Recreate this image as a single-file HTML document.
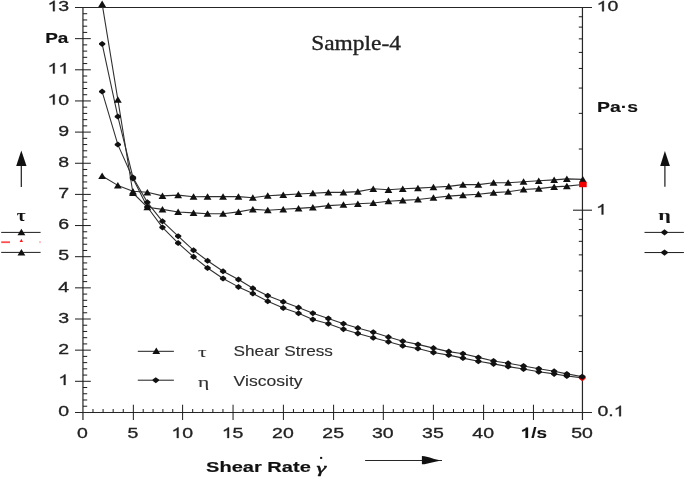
<!DOCTYPE html>
<html><head><meta charset="utf-8"><title>Sample-4</title>
<style>
html,body{margin:0;padding:0;background:#fff;}
body{width:685px;height:478px;overflow:hidden;font-family:"Liberation Sans",sans-serif;}
svg{display:block;will-change:transform;transform:translateZ(0);}
</style></head><body>
<svg width="685" height="478" viewBox="0 0 685 478">
<rect width="685" height="478" fill="#fff"/>
<line x1="75.00" y1="7.50" x2="592.00" y2="7.50" stroke="#262626" stroke-width="1.15"/>
<line x1="75.00" y1="412.45" x2="592.00" y2="412.45" stroke="#262626" stroke-width="1.15"/>
<line x1="82.95" y1="7.50" x2="82.95" y2="420.00" stroke="#262626" stroke-width="1.2"/>
<line x1="582.45" y1="7.50" x2="582.45" y2="420.00" stroke="#262626" stroke-width="1.2"/>
<line x1="82.95" y1="406.22" x2="87.20" y2="406.22" stroke="#1c1c1c" stroke-width="1.0"/>
<line x1="82.95" y1="399.99" x2="87.20" y2="399.99" stroke="#1c1c1c" stroke-width="1.0"/>
<line x1="82.95" y1="393.76" x2="87.20" y2="393.76" stroke="#1c1c1c" stroke-width="1.0"/>
<line x1="82.95" y1="387.53" x2="87.20" y2="387.53" stroke="#1c1c1c" stroke-width="1.0"/>
<line x1="75.00" y1="381.30" x2="90.80" y2="381.30" stroke="#1c1c1c" stroke-width="1.0"/>
<line x1="82.95" y1="375.07" x2="87.20" y2="375.07" stroke="#1c1c1c" stroke-width="1.0"/>
<line x1="82.95" y1="368.84" x2="87.20" y2="368.84" stroke="#1c1c1c" stroke-width="1.0"/>
<line x1="82.95" y1="362.61" x2="87.20" y2="362.61" stroke="#1c1c1c" stroke-width="1.0"/>
<line x1="82.95" y1="356.38" x2="87.20" y2="356.38" stroke="#1c1c1c" stroke-width="1.0"/>
<line x1="75.00" y1="350.15" x2="90.80" y2="350.15" stroke="#1c1c1c" stroke-width="1.0"/>
<line x1="82.95" y1="343.92" x2="87.20" y2="343.92" stroke="#1c1c1c" stroke-width="1.0"/>
<line x1="82.95" y1="337.69" x2="87.20" y2="337.69" stroke="#1c1c1c" stroke-width="1.0"/>
<line x1="82.95" y1="331.46" x2="87.20" y2="331.46" stroke="#1c1c1c" stroke-width="1.0"/>
<line x1="82.95" y1="325.23" x2="87.20" y2="325.23" stroke="#1c1c1c" stroke-width="1.0"/>
<line x1="75.00" y1="319.00" x2="90.80" y2="319.00" stroke="#1c1c1c" stroke-width="1.0"/>
<line x1="82.95" y1="312.77" x2="87.20" y2="312.77" stroke="#1c1c1c" stroke-width="1.0"/>
<line x1="82.95" y1="306.54" x2="87.20" y2="306.54" stroke="#1c1c1c" stroke-width="1.0"/>
<line x1="82.95" y1="300.31" x2="87.20" y2="300.31" stroke="#1c1c1c" stroke-width="1.0"/>
<line x1="82.95" y1="294.08" x2="87.20" y2="294.08" stroke="#1c1c1c" stroke-width="1.0"/>
<line x1="75.00" y1="287.85" x2="90.80" y2="287.85" stroke="#1c1c1c" stroke-width="1.0"/>
<line x1="82.95" y1="281.62" x2="87.20" y2="281.62" stroke="#1c1c1c" stroke-width="1.0"/>
<line x1="82.95" y1="275.39" x2="87.20" y2="275.39" stroke="#1c1c1c" stroke-width="1.0"/>
<line x1="82.95" y1="269.16" x2="87.20" y2="269.16" stroke="#1c1c1c" stroke-width="1.0"/>
<line x1="82.95" y1="262.93" x2="87.20" y2="262.93" stroke="#1c1c1c" stroke-width="1.0"/>
<line x1="75.00" y1="256.70" x2="90.80" y2="256.70" stroke="#1c1c1c" stroke-width="1.0"/>
<line x1="82.95" y1="250.47" x2="87.20" y2="250.47" stroke="#1c1c1c" stroke-width="1.0"/>
<line x1="82.95" y1="244.24" x2="87.20" y2="244.24" stroke="#1c1c1c" stroke-width="1.0"/>
<line x1="82.95" y1="238.01" x2="87.20" y2="238.01" stroke="#1c1c1c" stroke-width="1.0"/>
<line x1="82.95" y1="231.78" x2="87.20" y2="231.78" stroke="#1c1c1c" stroke-width="1.0"/>
<line x1="75.00" y1="225.55" x2="90.80" y2="225.55" stroke="#1c1c1c" stroke-width="1.0"/>
<line x1="82.95" y1="219.32" x2="87.20" y2="219.32" stroke="#1c1c1c" stroke-width="1.0"/>
<line x1="82.95" y1="213.09" x2="87.20" y2="213.09" stroke="#1c1c1c" stroke-width="1.0"/>
<line x1="82.95" y1="206.86" x2="87.20" y2="206.86" stroke="#1c1c1c" stroke-width="1.0"/>
<line x1="82.95" y1="200.63" x2="87.20" y2="200.63" stroke="#1c1c1c" stroke-width="1.0"/>
<line x1="75.00" y1="194.40" x2="90.80" y2="194.40" stroke="#1c1c1c" stroke-width="1.0"/>
<line x1="82.95" y1="188.17" x2="87.20" y2="188.17" stroke="#1c1c1c" stroke-width="1.0"/>
<line x1="82.95" y1="181.94" x2="87.20" y2="181.94" stroke="#1c1c1c" stroke-width="1.0"/>
<line x1="82.95" y1="175.71" x2="87.20" y2="175.71" stroke="#1c1c1c" stroke-width="1.0"/>
<line x1="82.95" y1="169.48" x2="87.20" y2="169.48" stroke="#1c1c1c" stroke-width="1.0"/>
<line x1="75.00" y1="163.25" x2="90.80" y2="163.25" stroke="#1c1c1c" stroke-width="1.0"/>
<line x1="82.95" y1="157.02" x2="87.20" y2="157.02" stroke="#1c1c1c" stroke-width="1.0"/>
<line x1="82.95" y1="150.79" x2="87.20" y2="150.79" stroke="#1c1c1c" stroke-width="1.0"/>
<line x1="82.95" y1="144.56" x2="87.20" y2="144.56" stroke="#1c1c1c" stroke-width="1.0"/>
<line x1="82.95" y1="138.33" x2="87.20" y2="138.33" stroke="#1c1c1c" stroke-width="1.0"/>
<line x1="75.00" y1="132.10" x2="90.80" y2="132.10" stroke="#1c1c1c" stroke-width="1.0"/>
<line x1="82.95" y1="125.87" x2="87.20" y2="125.87" stroke="#1c1c1c" stroke-width="1.0"/>
<line x1="82.95" y1="119.64" x2="87.20" y2="119.64" stroke="#1c1c1c" stroke-width="1.0"/>
<line x1="82.95" y1="113.41" x2="87.20" y2="113.41" stroke="#1c1c1c" stroke-width="1.0"/>
<line x1="82.95" y1="107.18" x2="87.20" y2="107.18" stroke="#1c1c1c" stroke-width="1.0"/>
<line x1="75.00" y1="100.95" x2="90.80" y2="100.95" stroke="#1c1c1c" stroke-width="1.0"/>
<line x1="82.95" y1="94.72" x2="87.20" y2="94.72" stroke="#1c1c1c" stroke-width="1.0"/>
<line x1="82.95" y1="88.49" x2="87.20" y2="88.49" stroke="#1c1c1c" stroke-width="1.0"/>
<line x1="82.95" y1="82.26" x2="87.20" y2="82.26" stroke="#1c1c1c" stroke-width="1.0"/>
<line x1="82.95" y1="76.03" x2="87.20" y2="76.03" stroke="#1c1c1c" stroke-width="1.0"/>
<line x1="75.00" y1="69.80" x2="90.80" y2="69.80" stroke="#1c1c1c" stroke-width="1.0"/>
<line x1="82.95" y1="63.57" x2="87.20" y2="63.57" stroke="#1c1c1c" stroke-width="1.0"/>
<line x1="82.95" y1="57.34" x2="87.20" y2="57.34" stroke="#1c1c1c" stroke-width="1.0"/>
<line x1="82.95" y1="51.11" x2="87.20" y2="51.11" stroke="#1c1c1c" stroke-width="1.0"/>
<line x1="82.95" y1="44.88" x2="87.20" y2="44.88" stroke="#1c1c1c" stroke-width="1.0"/>
<line x1="75.00" y1="38.65" x2="90.80" y2="38.65" stroke="#1c1c1c" stroke-width="1.0"/>
<line x1="82.95" y1="32.42" x2="87.20" y2="32.42" stroke="#1c1c1c" stroke-width="1.0"/>
<line x1="82.95" y1="26.19" x2="87.20" y2="26.19" stroke="#1c1c1c" stroke-width="1.0"/>
<line x1="82.95" y1="19.96" x2="87.20" y2="19.96" stroke="#1c1c1c" stroke-width="1.0"/>
<line x1="82.95" y1="13.73" x2="87.20" y2="13.73" stroke="#1c1c1c" stroke-width="1.0"/>
<line x1="92.99" y1="409.00" x2="92.99" y2="412.45" stroke="#1c1c1c" stroke-width="1.0"/>
<line x1="103.08" y1="409.00" x2="103.08" y2="412.45" stroke="#1c1c1c" stroke-width="1.0"/>
<line x1="113.17" y1="409.00" x2="113.17" y2="412.45" stroke="#1c1c1c" stroke-width="1.0"/>
<line x1="123.26" y1="409.00" x2="123.26" y2="412.45" stroke="#1c1c1c" stroke-width="1.0"/>
<line x1="133.35" y1="404.70" x2="133.35" y2="420.00" stroke="#1c1c1c" stroke-width="1.0"/>
<line x1="143.20" y1="409.00" x2="143.20" y2="412.45" stroke="#1c1c1c" stroke-width="1.0"/>
<line x1="153.05" y1="409.00" x2="153.05" y2="412.45" stroke="#1c1c1c" stroke-width="1.0"/>
<line x1="162.90" y1="409.00" x2="162.90" y2="412.45" stroke="#1c1c1c" stroke-width="1.0"/>
<line x1="172.75" y1="409.00" x2="172.75" y2="412.45" stroke="#1c1c1c" stroke-width="1.0"/>
<line x1="182.60" y1="404.70" x2="182.60" y2="420.00" stroke="#1c1c1c" stroke-width="1.0"/>
<line x1="192.69" y1="409.00" x2="192.69" y2="412.45" stroke="#1c1c1c" stroke-width="1.0"/>
<line x1="202.78" y1="409.00" x2="202.78" y2="412.45" stroke="#1c1c1c" stroke-width="1.0"/>
<line x1="212.87" y1="409.00" x2="212.87" y2="412.45" stroke="#1c1c1c" stroke-width="1.0"/>
<line x1="222.96" y1="409.00" x2="222.96" y2="412.45" stroke="#1c1c1c" stroke-width="1.0"/>
<line x1="233.05" y1="404.70" x2="233.05" y2="420.00" stroke="#1c1c1c" stroke-width="1.0"/>
<line x1="243.12" y1="409.00" x2="243.12" y2="412.45" stroke="#1c1c1c" stroke-width="1.0"/>
<line x1="253.19" y1="409.00" x2="253.19" y2="412.45" stroke="#1c1c1c" stroke-width="1.0"/>
<line x1="263.26" y1="409.00" x2="263.26" y2="412.45" stroke="#1c1c1c" stroke-width="1.0"/>
<line x1="273.33" y1="409.00" x2="273.33" y2="412.45" stroke="#1c1c1c" stroke-width="1.0"/>
<line x1="283.40" y1="404.70" x2="283.40" y2="420.00" stroke="#1c1c1c" stroke-width="1.0"/>
<line x1="293.44" y1="409.00" x2="293.44" y2="412.45" stroke="#1c1c1c" stroke-width="1.0"/>
<line x1="303.48" y1="409.00" x2="303.48" y2="412.45" stroke="#1c1c1c" stroke-width="1.0"/>
<line x1="313.52" y1="409.00" x2="313.52" y2="412.45" stroke="#1c1c1c" stroke-width="1.0"/>
<line x1="323.56" y1="409.00" x2="323.56" y2="412.45" stroke="#1c1c1c" stroke-width="1.0"/>
<line x1="333.60" y1="404.70" x2="333.60" y2="420.00" stroke="#1c1c1c" stroke-width="1.0"/>
<line x1="343.54" y1="409.00" x2="343.54" y2="412.45" stroke="#1c1c1c" stroke-width="1.0"/>
<line x1="353.48" y1="409.00" x2="353.48" y2="412.45" stroke="#1c1c1c" stroke-width="1.0"/>
<line x1="363.42" y1="409.00" x2="363.42" y2="412.45" stroke="#1c1c1c" stroke-width="1.0"/>
<line x1="373.36" y1="409.00" x2="373.36" y2="412.45" stroke="#1c1c1c" stroke-width="1.0"/>
<line x1="383.30" y1="404.70" x2="383.30" y2="420.00" stroke="#1c1c1c" stroke-width="1.0"/>
<line x1="393.32" y1="409.00" x2="393.32" y2="412.45" stroke="#1c1c1c" stroke-width="1.0"/>
<line x1="403.34" y1="409.00" x2="403.34" y2="412.45" stroke="#1c1c1c" stroke-width="1.0"/>
<line x1="413.36" y1="409.00" x2="413.36" y2="412.45" stroke="#1c1c1c" stroke-width="1.0"/>
<line x1="423.38" y1="409.00" x2="423.38" y2="412.45" stroke="#1c1c1c" stroke-width="1.0"/>
<line x1="433.40" y1="404.70" x2="433.40" y2="420.00" stroke="#1c1c1c" stroke-width="1.0"/>
<line x1="443.44" y1="409.00" x2="443.44" y2="412.45" stroke="#1c1c1c" stroke-width="1.0"/>
<line x1="453.48" y1="409.00" x2="453.48" y2="412.45" stroke="#1c1c1c" stroke-width="1.0"/>
<line x1="463.52" y1="409.00" x2="463.52" y2="412.45" stroke="#1c1c1c" stroke-width="1.0"/>
<line x1="473.56" y1="409.00" x2="473.56" y2="412.45" stroke="#1c1c1c" stroke-width="1.0"/>
<line x1="483.60" y1="404.70" x2="483.60" y2="420.00" stroke="#1c1c1c" stroke-width="1.0"/>
<line x1="493.57" y1="409.00" x2="493.57" y2="412.45" stroke="#1c1c1c" stroke-width="1.0"/>
<line x1="503.54" y1="409.00" x2="503.54" y2="412.45" stroke="#1c1c1c" stroke-width="1.0"/>
<line x1="513.51" y1="409.00" x2="513.51" y2="412.45" stroke="#1c1c1c" stroke-width="1.0"/>
<line x1="523.48" y1="409.00" x2="523.48" y2="412.45" stroke="#1c1c1c" stroke-width="1.0"/>
<line x1="533.45" y1="404.70" x2="533.45" y2="420.00" stroke="#1c1c1c" stroke-width="1.0"/>
<line x1="543.25" y1="409.00" x2="543.25" y2="412.45" stroke="#1c1c1c" stroke-width="1.0"/>
<line x1="553.05" y1="409.00" x2="553.05" y2="412.45" stroke="#1c1c1c" stroke-width="1.0"/>
<line x1="562.85" y1="409.00" x2="562.85" y2="412.45" stroke="#1c1c1c" stroke-width="1.0"/>
<line x1="572.65" y1="409.00" x2="572.65" y2="412.45" stroke="#1c1c1c" stroke-width="1.0"/>
<line x1="578.80" y1="149.02" x2="582.45" y2="149.02" stroke="#1c1c1c" stroke-width="1.0"/>
<line x1="578.80" y1="113.37" x2="582.45" y2="113.37" stroke="#1c1c1c" stroke-width="1.0"/>
<line x1="578.80" y1="88.07" x2="582.45" y2="88.07" stroke="#1c1c1c" stroke-width="1.0"/>
<line x1="578.80" y1="68.45" x2="582.45" y2="68.45" stroke="#1c1c1c" stroke-width="1.0"/>
<line x1="578.80" y1="52.42" x2="582.45" y2="52.42" stroke="#1c1c1c" stroke-width="1.0"/>
<line x1="578.80" y1="38.86" x2="582.45" y2="38.86" stroke="#1c1c1c" stroke-width="1.0"/>
<line x1="578.80" y1="27.12" x2="582.45" y2="27.12" stroke="#1c1c1c" stroke-width="1.0"/>
<line x1="578.80" y1="16.76" x2="582.45" y2="16.76" stroke="#1c1c1c" stroke-width="1.0"/>
<line x1="578.80" y1="351.50" x2="582.45" y2="351.50" stroke="#1c1c1c" stroke-width="1.0"/>
<line x1="578.80" y1="315.84" x2="582.45" y2="315.84" stroke="#1c1c1c" stroke-width="1.0"/>
<line x1="578.80" y1="290.55" x2="582.45" y2="290.55" stroke="#1c1c1c" stroke-width="1.0"/>
<line x1="578.80" y1="270.93" x2="582.45" y2="270.93" stroke="#1c1c1c" stroke-width="1.0"/>
<line x1="578.80" y1="254.89" x2="582.45" y2="254.89" stroke="#1c1c1c" stroke-width="1.0"/>
<line x1="578.80" y1="241.34" x2="582.45" y2="241.34" stroke="#1c1c1c" stroke-width="1.0"/>
<line x1="578.80" y1="229.60" x2="582.45" y2="229.60" stroke="#1c1c1c" stroke-width="1.0"/>
<line x1="578.80" y1="219.24" x2="582.45" y2="219.24" stroke="#1c1c1c" stroke-width="1.0"/>
<line x1="573.00" y1="210.20" x2="592.00" y2="210.20" stroke="#262626" stroke-width="1.1"/>
<polyline points="102.15,3.90 117.85,99.60 132.95,193.00 147.35,207.20 162.45,209.40 178.15,212.00 193.55,212.90 207.55,213.70 223.05,213.70 238.45,211.90 252.85,209.30 267.75,210.20 283.25,209.30 298.55,208.40 312.85,207.40 328.35,205.60 343.45,204.70 357.85,203.80 373.25,203.00 388.45,201.20 402.75,200.40 417.95,199.50 433.45,197.70 448.75,196.10 462.95,195.10 478.35,194.20 493.55,192.60 508.15,191.70 523.55,189.50 538.75,188.60 554.15,186.90 566.85,186.10 582.85,184.50" fill="none" stroke="#303030" stroke-width="1.08" stroke-linejoin="round"/>
<polyline points="102.15,176.00 117.85,185.40 132.95,191.30 147.35,192.30 162.45,195.90 178.15,195.10 193.55,196.70 207.55,196.60 223.05,196.60 238.45,196.60 252.85,197.70 267.75,195.70 283.25,194.90 298.55,194.00 312.85,193.20 328.35,192.40 343.45,192.40 357.85,191.60 373.25,188.80 388.45,189.80 402.75,188.80 417.95,188.10 433.45,187.20 448.75,186.40 462.95,184.60 478.35,184.60 493.55,182.70 508.15,182.70 523.55,181.70 538.75,180.80 554.15,179.90 566.85,178.90 582.85,179.40" fill="none" stroke="#303030" stroke-width="1.08" stroke-linejoin="round"/>
<polyline points="102.15,43.90 117.85,116.60 132.95,177.50 147.35,202.30 162.45,221.30 178.15,236.20 193.55,250.30 207.55,260.80 223.05,271.30 238.45,279.50 252.85,288.30 267.75,295.70 283.25,301.80 298.55,307.60 312.85,313.20 328.35,318.50 343.45,323.70 357.85,328.10 373.25,332.20 388.45,337.10 402.75,341.20 417.95,344.40 433.45,348.10 448.75,351.60 462.95,353.70 478.35,357.40 493.55,361.00 508.15,363.30 523.55,366.00 538.75,368.70 554.15,371.30 566.85,373.90 582.85,376.80" fill="none" stroke="#303030" stroke-width="1.08" stroke-linejoin="round"/>
<polyline points="102.15,91.60 117.85,144.60 132.95,178.50 147.35,207.00 162.45,227.40 178.15,243.10 193.55,256.80 207.55,268.00 223.05,278.50 238.45,286.90 252.85,293.60 267.75,301.30 283.25,308.00 298.55,313.30 312.85,319.40 328.35,323.70 343.45,329.20 357.85,333.40 373.25,337.80 388.45,341.80 402.75,345.80 417.95,348.60 433.45,352.50 448.75,355.10 462.95,358.10 478.35,361.30 493.55,363.90 508.15,366.60 523.55,369.00 538.75,371.80 554.15,373.90 566.85,376.00 582.85,377.90" fill="none" stroke="#303030" stroke-width="1.08" stroke-linejoin="round"/>
<polygon points="98.25,179.10 106.05,179.10 102.15,172.60" fill="#111"/>
<polygon points="98.25,7.00 106.05,7.00 102.15,0.50" fill="#111"/>
<polygon points="99.00,90.94 102.15,88.60 105.30,90.94 105.30,92.26 102.15,94.60 99.00,92.26" fill="#111"/>
<polygon points="99.00,43.24 102.15,40.90 105.30,43.24 105.30,44.56 102.15,46.90 99.00,44.56" fill="#111"/>
<polygon points="113.95,188.50 121.75,188.50 117.85,182.00" fill="#111"/>
<polygon points="113.95,102.70 121.75,102.70 117.85,96.20" fill="#111"/>
<polygon points="114.70,143.94 117.85,141.60 121.00,143.94 121.00,145.26 117.85,147.60 114.70,145.26" fill="#111"/>
<polygon points="114.70,115.94 117.85,113.60 121.00,115.94 121.00,117.26 117.85,119.60 114.70,117.26" fill="#111"/>
<polygon points="129.05,194.40 136.85,194.40 132.95,187.90" fill="#111"/>
<polygon points="129.05,196.10 136.85,196.10 132.95,189.60" fill="#111"/>
<polygon points="129.80,177.84 132.95,175.50 136.10,177.84 136.10,179.16 132.95,181.50 129.80,179.16" fill="#111"/>
<polygon points="129.80,176.84 132.95,174.50 136.10,176.84 136.10,178.16 132.95,180.50 129.80,178.16" fill="#111"/>
<polygon points="143.45,195.40 151.25,195.40 147.35,188.90" fill="#111"/>
<polygon points="143.45,210.30 151.25,210.30 147.35,203.80" fill="#111"/>
<polygon points="144.20,206.34 147.35,204.00 150.50,206.34 150.50,207.66 147.35,210.00 144.20,207.66" fill="#111"/>
<polygon points="144.20,201.64 147.35,199.30 150.50,201.64 150.50,202.96 147.35,205.30 144.20,202.96" fill="#111"/>
<polygon points="158.55,199.00 166.35,199.00 162.45,192.50" fill="#111"/>
<polygon points="158.55,212.50 166.35,212.50 162.45,206.00" fill="#111"/>
<polygon points="159.30,226.74 162.45,224.40 165.60,226.74 165.60,228.06 162.45,230.40 159.30,228.06" fill="#111"/>
<polygon points="159.30,220.64 162.45,218.30 165.60,220.64 165.60,221.96 162.45,224.30 159.30,221.96" fill="#111"/>
<polygon points="174.25,198.20 182.05,198.20 178.15,191.70" fill="#111"/>
<polygon points="174.25,215.10 182.05,215.10 178.15,208.60" fill="#111"/>
<polygon points="175.00,242.44 178.15,240.10 181.30,242.44 181.30,243.76 178.15,246.10 175.00,243.76" fill="#111"/>
<polygon points="175.00,235.54 178.15,233.20 181.30,235.54 181.30,236.86 178.15,239.20 175.00,236.86" fill="#111"/>
<polygon points="189.65,199.80 197.45,199.80 193.55,193.30" fill="#111"/>
<polygon points="189.65,216.00 197.45,216.00 193.55,209.50" fill="#111"/>
<polygon points="190.40,256.14 193.55,253.80 196.70,256.14 196.70,257.46 193.55,259.80 190.40,257.46" fill="#111"/>
<polygon points="190.40,249.64 193.55,247.30 196.70,249.64 196.70,250.96 193.55,253.30 190.40,250.96" fill="#111"/>
<polygon points="203.65,199.70 211.45,199.70 207.55,193.20" fill="#111"/>
<polygon points="203.65,216.80 211.45,216.80 207.55,210.30" fill="#111"/>
<polygon points="204.40,267.34 207.55,265.00 210.70,267.34 210.70,268.66 207.55,271.00 204.40,268.66" fill="#111"/>
<polygon points="204.40,260.14 207.55,257.80 210.70,260.14 210.70,261.46 207.55,263.80 204.40,261.46" fill="#111"/>
<polygon points="219.15,199.70 226.95,199.70 223.05,193.20" fill="#111"/>
<polygon points="219.15,216.80 226.95,216.80 223.05,210.30" fill="#111"/>
<polygon points="219.90,277.84 223.05,275.50 226.20,277.84 226.20,279.16 223.05,281.50 219.90,279.16" fill="#111"/>
<polygon points="219.90,270.64 223.05,268.30 226.20,270.64 226.20,271.96 223.05,274.30 219.90,271.96" fill="#111"/>
<polygon points="234.55,199.70 242.35,199.70 238.45,193.20" fill="#111"/>
<polygon points="234.55,215.00 242.35,215.00 238.45,208.50" fill="#111"/>
<polygon points="235.30,286.24 238.45,283.90 241.60,286.24 241.60,287.56 238.45,289.90 235.30,287.56" fill="#111"/>
<polygon points="235.30,278.84 238.45,276.50 241.60,278.84 241.60,280.16 238.45,282.50 235.30,280.16" fill="#111"/>
<polygon points="248.95,200.80 256.75,200.80 252.85,194.30" fill="#111"/>
<polygon points="248.95,212.40 256.75,212.40 252.85,205.90" fill="#111"/>
<polygon points="249.70,292.94 252.85,290.60 256.00,292.94 256.00,294.26 252.85,296.60 249.70,294.26" fill="#111"/>
<polygon points="249.70,287.64 252.85,285.30 256.00,287.64 256.00,288.96 252.85,291.30 249.70,288.96" fill="#111"/>
<polygon points="263.85,198.80 271.65,198.80 267.75,192.30" fill="#111"/>
<polygon points="263.85,213.30 271.65,213.30 267.75,206.80" fill="#111"/>
<polygon points="264.60,300.64 267.75,298.30 270.90,300.64 270.90,301.96 267.75,304.30 264.60,301.96" fill="#111"/>
<polygon points="264.60,295.04 267.75,292.70 270.90,295.04 270.90,296.36 267.75,298.70 264.60,296.36" fill="#111"/>
<polygon points="279.35,198.00 287.15,198.00 283.25,191.50" fill="#111"/>
<polygon points="279.35,212.40 287.15,212.40 283.25,205.90" fill="#111"/>
<polygon points="280.10,307.34 283.25,305.00 286.40,307.34 286.40,308.66 283.25,311.00 280.10,308.66" fill="#111"/>
<polygon points="280.10,301.14 283.25,298.80 286.40,301.14 286.40,302.46 283.25,304.80 280.10,302.46" fill="#111"/>
<polygon points="294.65,197.10 302.45,197.10 298.55,190.60" fill="#111"/>
<polygon points="294.65,211.50 302.45,211.50 298.55,205.00" fill="#111"/>
<polygon points="295.40,312.64 298.55,310.30 301.70,312.64 301.70,313.96 298.55,316.30 295.40,313.96" fill="#111"/>
<polygon points="295.40,306.94 298.55,304.60 301.70,306.94 301.70,308.26 298.55,310.60 295.40,308.26" fill="#111"/>
<polygon points="308.95,196.30 316.75,196.30 312.85,189.80" fill="#111"/>
<polygon points="308.95,210.50 316.75,210.50 312.85,204.00" fill="#111"/>
<polygon points="309.70,318.74 312.85,316.40 316.00,318.74 316.00,320.06 312.85,322.40 309.70,320.06" fill="#111"/>
<polygon points="309.70,312.54 312.85,310.20 316.00,312.54 316.00,313.86 312.85,316.20 309.70,313.86" fill="#111"/>
<polygon points="324.45,195.50 332.25,195.50 328.35,189.00" fill="#111"/>
<polygon points="324.45,208.70 332.25,208.70 328.35,202.20" fill="#111"/>
<polygon points="325.20,323.04 328.35,320.70 331.50,323.04 331.50,324.36 328.35,326.70 325.20,324.36" fill="#111"/>
<polygon points="325.20,317.84 328.35,315.50 331.50,317.84 331.50,319.16 328.35,321.50 325.20,319.16" fill="#111"/>
<polygon points="339.55,195.50 347.35,195.50 343.45,189.00" fill="#111"/>
<polygon points="339.55,207.80 347.35,207.80 343.45,201.30" fill="#111"/>
<polygon points="340.30,328.54 343.45,326.20 346.60,328.54 346.60,329.86 343.45,332.20 340.30,329.86" fill="#111"/>
<polygon points="340.30,323.04 343.45,320.70 346.60,323.04 346.60,324.36 343.45,326.70 340.30,324.36" fill="#111"/>
<polygon points="353.95,194.70 361.75,194.70 357.85,188.20" fill="#111"/>
<polygon points="353.95,206.90 361.75,206.90 357.85,200.40" fill="#111"/>
<polygon points="354.70,332.74 357.85,330.40 361.00,332.74 361.00,334.06 357.85,336.40 354.70,334.06" fill="#111"/>
<polygon points="354.70,327.44 357.85,325.10 361.00,327.44 361.00,328.76 357.85,331.10 354.70,328.76" fill="#111"/>
<polygon points="369.35,191.90 377.15,191.90 373.25,185.40" fill="#111"/>
<polygon points="369.35,206.10 377.15,206.10 373.25,199.60" fill="#111"/>
<polygon points="370.10,337.14 373.25,334.80 376.40,337.14 376.40,338.46 373.25,340.80 370.10,338.46" fill="#111"/>
<polygon points="370.10,331.54 373.25,329.20 376.40,331.54 376.40,332.86 373.25,335.20 370.10,332.86" fill="#111"/>
<polygon points="384.55,192.90 392.35,192.90 388.45,186.40" fill="#111"/>
<polygon points="384.55,204.30 392.35,204.30 388.45,197.80" fill="#111"/>
<polygon points="385.30,341.14 388.45,338.80 391.60,341.14 391.60,342.46 388.45,344.80 385.30,342.46" fill="#111"/>
<polygon points="385.30,336.44 388.45,334.10 391.60,336.44 391.60,337.76 388.45,340.10 385.30,337.76" fill="#111"/>
<polygon points="398.85,191.90 406.65,191.90 402.75,185.40" fill="#111"/>
<polygon points="398.85,203.50 406.65,203.50 402.75,197.00" fill="#111"/>
<polygon points="399.60,345.14 402.75,342.80 405.90,345.14 405.90,346.46 402.75,348.80 399.60,346.46" fill="#111"/>
<polygon points="399.60,340.54 402.75,338.20 405.90,340.54 405.90,341.86 402.75,344.20 399.60,341.86" fill="#111"/>
<polygon points="414.05,191.20 421.85,191.20 417.95,184.70" fill="#111"/>
<polygon points="414.05,202.60 421.85,202.60 417.95,196.10" fill="#111"/>
<polygon points="414.80,347.94 417.95,345.60 421.10,347.94 421.10,349.26 417.95,351.60 414.80,349.26" fill="#111"/>
<polygon points="414.80,343.74 417.95,341.40 421.10,343.74 421.10,345.06 417.95,347.40 414.80,345.06" fill="#111"/>
<polygon points="429.55,190.30 437.35,190.30 433.45,183.80" fill="#111"/>
<polygon points="429.55,200.80 437.35,200.80 433.45,194.30" fill="#111"/>
<polygon points="430.30,351.84 433.45,349.50 436.60,351.84 436.60,353.16 433.45,355.50 430.30,353.16" fill="#111"/>
<polygon points="430.30,347.44 433.45,345.10 436.60,347.44 436.60,348.76 433.45,351.10 430.30,348.76" fill="#111"/>
<polygon points="444.85,189.50 452.65,189.50 448.75,183.00" fill="#111"/>
<polygon points="444.85,199.20 452.65,199.20 448.75,192.70" fill="#111"/>
<polygon points="445.60,354.44 448.75,352.10 451.90,354.44 451.90,355.76 448.75,358.10 445.60,355.76" fill="#111"/>
<polygon points="445.60,350.94 448.75,348.60 451.90,350.94 451.90,352.26 448.75,354.60 445.60,352.26" fill="#111"/>
<polygon points="459.05,187.70 466.85,187.70 462.95,181.20" fill="#111"/>
<polygon points="459.05,198.20 466.85,198.20 462.95,191.70" fill="#111"/>
<polygon points="459.80,357.44 462.95,355.10 466.10,357.44 466.10,358.76 462.95,361.10 459.80,358.76" fill="#111"/>
<polygon points="459.80,353.04 462.95,350.70 466.10,353.04 466.10,354.36 462.95,356.70 459.80,354.36" fill="#111"/>
<polygon points="474.45,187.70 482.25,187.70 478.35,181.20" fill="#111"/>
<polygon points="474.45,197.30 482.25,197.30 478.35,190.80" fill="#111"/>
<polygon points="475.20,360.64 478.35,358.30 481.50,360.64 481.50,361.96 478.35,364.30 475.20,361.96" fill="#111"/>
<polygon points="475.20,356.74 478.35,354.40 481.50,356.74 481.50,358.06 478.35,360.40 475.20,358.06" fill="#111"/>
<polygon points="489.65,185.80 497.45,185.80 493.55,179.30" fill="#111"/>
<polygon points="489.65,195.70 497.45,195.70 493.55,189.20" fill="#111"/>
<polygon points="490.40,363.24 493.55,360.90 496.70,363.24 496.70,364.56 493.55,366.90 490.40,364.56" fill="#111"/>
<polygon points="490.40,360.34 493.55,358.00 496.70,360.34 496.70,361.66 493.55,364.00 490.40,361.66" fill="#111"/>
<polygon points="504.25,185.80 512.05,185.80 508.15,179.30" fill="#111"/>
<polygon points="504.25,194.80 512.05,194.80 508.15,188.30" fill="#111"/>
<polygon points="505.00,365.94 508.15,363.60 511.30,365.94 511.30,367.26 508.15,369.60 505.00,367.26" fill="#111"/>
<polygon points="505.00,362.64 508.15,360.30 511.30,362.64 511.30,363.96 508.15,366.30 505.00,363.96" fill="#111"/>
<polygon points="519.65,184.80 527.45,184.80 523.55,178.30" fill="#111"/>
<polygon points="519.65,192.60 527.45,192.60 523.55,186.10" fill="#111"/>
<polygon points="520.40,368.34 523.55,366.00 526.70,368.34 526.70,369.66 523.55,372.00 520.40,369.66" fill="#111"/>
<polygon points="520.40,365.34 523.55,363.00 526.70,365.34 526.70,366.66 523.55,369.00 520.40,366.66" fill="#111"/>
<polygon points="534.85,183.90 542.65,183.90 538.75,177.40" fill="#111"/>
<polygon points="534.85,191.70 542.65,191.70 538.75,185.20" fill="#111"/>
<polygon points="535.60,371.14 538.75,368.80 541.90,371.14 541.90,372.46 538.75,374.80 535.60,372.46" fill="#111"/>
<polygon points="535.60,368.04 538.75,365.70 541.90,368.04 541.90,369.36 538.75,371.70 535.60,369.36" fill="#111"/>
<polygon points="550.25,183.00 558.05,183.00 554.15,176.50" fill="#111"/>
<polygon points="550.25,190.00 558.05,190.00 554.15,183.50" fill="#111"/>
<polygon points="551.00,373.24 554.15,370.90 557.30,373.24 557.30,374.56 554.15,376.90 551.00,374.56" fill="#111"/>
<polygon points="551.00,370.64 554.15,368.30 557.30,370.64 557.30,371.96 554.15,374.30 551.00,371.96" fill="#111"/>
<polygon points="562.95,182.00 570.75,182.00 566.85,175.50" fill="#111"/>
<polygon points="562.95,189.20 570.75,189.20 566.85,182.70" fill="#111"/>
<polygon points="563.70,375.34 566.85,373.00 570.00,375.34 570.00,376.66 566.85,379.00 563.70,376.66" fill="#111"/>
<polygon points="563.70,373.24 566.85,370.90 570.00,373.24 570.00,374.56 566.85,376.90 563.70,374.56" fill="#111"/>
<polygon points="578.95,182.50 586.75,182.50 582.85,176.00" fill="#111"/>
<polygon points="578.90,377.25 582.20,374.75 585.50,377.25 585.50,378.65 582.20,381.15 578.90,378.65" fill="#f00000"/>
<polygon points="578.90,376.07 582.20,373.65 585.50,376.07 585.50,377.43 582.20,379.85 578.90,377.43" fill="#111"/>
<rect x="579.1" y="181.8" width="7.6" height="5.4" fill="#f20000"/>
<line x1="137.80" y1="351.30" x2="173.90" y2="351.30" stroke="#1c1c1c" stroke-width="1.0"/>
<polygon points="152.40,354.10 160.20,354.10 156.30,347.60" fill="#111"/>
<line x1="137.80" y1="380.20" x2="173.90" y2="380.20" stroke="#1c1c1c" stroke-width="1.0"/>
<polygon points="152.65,379.54 155.80,377.20 158.95,379.54 158.95,380.86 155.80,383.20 152.65,380.86" fill="#111"/>
<line x1="1.20" y1="232.40" x2="40.60" y2="232.40" stroke="#1c1c1c" stroke-width="1.0"/>
<polygon points="17.50,235.30 25.30,235.30 21.40,228.80" fill="#111"/>
<line x1="1.20" y1="252.40" x2="40.60" y2="252.40" stroke="#1c1c1c" stroke-width="1.0"/>
<polygon points="17.50,255.50 25.30,255.50 21.40,249.00" fill="#111"/>
<rect x="1.2" y="241.3" width="8.8" height="1.8" fill="#ff4f4f"/>
<polygon points="19.6,242.1 23.0,242.1 21.4,238.7" fill="#ff1a1a"/>
<rect x="39.4" y="241.5" width="1.2" height="1.2" fill="#ff6060"/>
<line x1="644.50" y1="232.40" x2="683.90" y2="232.40" stroke="#1c1c1c" stroke-width="1.0"/>
<polygon points="661.30,231.72 664.50,229.30 667.70,231.72 667.70,233.08 664.50,235.50 661.30,233.08" fill="#111"/>
<line x1="644.50" y1="252.55" x2="683.90" y2="252.55" stroke="#1c1c1c" stroke-width="1.0"/>
<polygon points="661.30,251.87 664.50,249.45 667.70,251.87 667.70,253.23 664.50,255.65 661.30,253.23" fill="#111"/>
<line x1="21.30" y1="160.00" x2="21.30" y2="187.00" stroke="#1c1c1c" stroke-width="1.2"/>
<polygon points="16.2,165.9 26.5,165.9 21.3,150.6" fill="#111"/>
<line x1="664.90" y1="160.00" x2="664.90" y2="186.80" stroke="#1c1c1c" stroke-width="1.2"/>
<polygon points="660.2,165.9 669.9,165.9 664.9,151.0" fill="#111"/>
<line x1="365.10" y1="460.40" x2="442.00" y2="460.40" stroke="#262626" stroke-width="1.05"/>
<polygon points="421.9,456.1 424.5,456.2 429.8,457.6 434.2,459.0 438.8,459.9 438.8,460.9 434.2,461.9 429.8,463.0 424.5,464.2 421.9,464.3" fill="#111"/>
<g transform="translate(58.26,416.10) scale(1.344,1)"><text x="0.000" y="0" font-family="Liberation Sans" font-size="14.5" font-weight="normal" fill="#222" stroke="#222" stroke-width="0.3">0</text></g>
<g transform="translate(58.26,384.95) scale(1.344,1)"><path transform="translate(0.000,0) scale(14.5)" d="M0.3726,0 L0.2847,0 L0.2847,-0.560 Q0.253,-0.530 0.2014,-0.4995 Q0.150,-0.469 0.1089,-0.454 L0.1089,-0.539 Q0.1826,-0.5737 0.2378,-0.623 Q0.293,-0.672 0.316,-0.7188 L0.3726,-0.7188 Z" fill="#222" stroke="#222" stroke-width="0.0207"/></g>
<g transform="translate(58.26,353.80) scale(1.344,1)"><text x="0.000" y="0" font-family="Liberation Sans" font-size="14.5" font-weight="normal" fill="#222" stroke="#222" stroke-width="0.3">2</text></g>
<g transform="translate(58.26,322.65) scale(1.344,1)"><text x="0.000" y="0" font-family="Liberation Sans" font-size="14.5" font-weight="normal" fill="#222" stroke="#222" stroke-width="0.3">3</text></g>
<g transform="translate(58.26,291.50) scale(1.344,1)"><text x="0.000" y="0" font-family="Liberation Sans" font-size="14.5" font-weight="normal" fill="#222" stroke="#222" stroke-width="0.3">4</text></g>
<g transform="translate(58.26,260.35) scale(1.344,1)"><text x="0.000" y="0" font-family="Liberation Sans" font-size="14.5" font-weight="normal" fill="#222" stroke="#222" stroke-width="0.3">5</text></g>
<g transform="translate(58.26,229.20) scale(1.344,1)"><text x="0.000" y="0" font-family="Liberation Sans" font-size="14.5" font-weight="normal" fill="#222" stroke="#222" stroke-width="0.3">6</text></g>
<g transform="translate(58.26,198.05) scale(1.344,1)"><text x="0.000" y="0" font-family="Liberation Sans" font-size="14.5" font-weight="normal" fill="#222" stroke="#222" stroke-width="0.3">7</text></g>
<g transform="translate(58.26,166.90) scale(1.344,1)"><text x="0.000" y="0" font-family="Liberation Sans" font-size="14.5" font-weight="normal" fill="#222" stroke="#222" stroke-width="0.3">8</text></g>
<g transform="translate(58.26,135.75) scale(1.344,1)"><text x="0.000" y="0" font-family="Liberation Sans" font-size="14.5" font-weight="normal" fill="#222" stroke="#222" stroke-width="0.3">9</text></g>
<g transform="translate(47.43,104.60) scale(1.344,1)"><path transform="translate(0.000,0) scale(14.5)" d="M0.3726,0 L0.2847,0 L0.2847,-0.560 Q0.253,-0.530 0.2014,-0.4995 Q0.150,-0.469 0.1089,-0.454 L0.1089,-0.539 Q0.1826,-0.5737 0.2378,-0.623 Q0.293,-0.672 0.316,-0.7188 L0.3726,-0.7188 Z" fill="#222" stroke="#222" stroke-width="0.0207"/><text x="8.062" y="0" font-family="Liberation Sans" font-size="14.5" font-weight="normal" fill="#222" stroke="#222" stroke-width="0.3">0</text></g>
<g transform="translate(47.43,73.45) scale(1.344,1)"><path transform="translate(0.000,0) scale(14.5)" d="M0.3726,0 L0.2847,0 L0.2847,-0.560 Q0.253,-0.530 0.2014,-0.4995 Q0.150,-0.469 0.1089,-0.454 L0.1089,-0.539 Q0.1826,-0.5737 0.2378,-0.623 Q0.293,-0.672 0.316,-0.7188 L0.3726,-0.7188 Z" fill="#222" stroke="#222" stroke-width="0.0207"/><path transform="translate(8.062,0) scale(14.5)" d="M0.3726,0 L0.2847,0 L0.2847,-0.560 Q0.253,-0.530 0.2014,-0.4995 Q0.150,-0.469 0.1089,-0.454 L0.1089,-0.539 Q0.1826,-0.5737 0.2378,-0.623 Q0.293,-0.672 0.316,-0.7188 L0.3726,-0.7188 Z" fill="#222" stroke="#222" stroke-width="0.0207"/></g>
<g transform="translate(47.43,11.15) scale(1.344,1)"><path transform="translate(0.000,0) scale(14.5)" d="M0.3726,0 L0.2847,0 L0.2847,-0.560 Q0.253,-0.530 0.2014,-0.4995 Q0.150,-0.469 0.1089,-0.454 L0.1089,-0.539 Q0.1826,-0.5737 0.2378,-0.623 Q0.293,-0.672 0.316,-0.7188 L0.3726,-0.7188 Z" fill="#222" stroke="#222" stroke-width="0.0207"/><text x="8.062" y="0" font-family="Liberation Sans" font-size="14.5" font-weight="normal" fill="#222" stroke="#222" stroke-width="0.3">3</text></g>
<text x="68.4" y="42.5" font-family="Liberation Sans" font-size="14.8" font-weight="bold" text-anchor="end" fill="#111" textLength="23.2" lengthAdjust="spacingAndGlyphs" stroke="#111" stroke-width="0.15">Pa</text>
<g transform="translate(77.03,437.90) scale(1.344,1)"><text x="0.000" y="0" font-family="Liberation Sans" font-size="14.5" font-weight="normal" fill="#222" stroke="#222" stroke-width="0.3">0</text></g>
<g transform="translate(127.48,437.90) scale(1.344,1)"><text x="0.000" y="0" font-family="Liberation Sans" font-size="14.5" font-weight="normal" fill="#222" stroke="#222" stroke-width="0.3">5</text></g>
<g transform="translate(171.31,437.90) scale(1.344,1)"><path transform="translate(0.000,0) scale(14.5)" d="M0.3726,0 L0.2847,0 L0.2847,-0.560 Q0.253,-0.530 0.2014,-0.4995 Q0.150,-0.469 0.1089,-0.454 L0.1089,-0.539 Q0.1826,-0.5737 0.2378,-0.623 Q0.293,-0.672 0.316,-0.7188 L0.3726,-0.7188 Z" fill="#222" stroke="#222" stroke-width="0.0207"/><text x="8.062" y="0" font-family="Liberation Sans" font-size="14.5" font-weight="normal" fill="#222" stroke="#222" stroke-width="0.3">0</text></g>
<g transform="translate(221.76,437.90) scale(1.344,1)"><path transform="translate(0.000,0) scale(14.5)" d="M0.3726,0 L0.2847,0 L0.2847,-0.560 Q0.253,-0.530 0.2014,-0.4995 Q0.150,-0.469 0.1089,-0.454 L0.1089,-0.539 Q0.1826,-0.5737 0.2378,-0.623 Q0.293,-0.672 0.316,-0.7188 L0.3726,-0.7188 Z" fill="#222" stroke="#222" stroke-width="0.0207"/><text x="8.062" y="0" font-family="Liberation Sans" font-size="14.5" font-weight="normal" fill="#222" stroke="#222" stroke-width="0.3">5</text></g>
<g transform="translate(272.11,437.90) scale(1.344,1)"><text x="0.000" y="0" font-family="Liberation Sans" font-size="14.5" font-weight="normal" fill="#222" stroke="#222" stroke-width="0.3">2</text><text x="8.062" y="0" font-family="Liberation Sans" font-size="14.5" font-weight="normal" fill="#222" stroke="#222" stroke-width="0.3">0</text></g>
<g transform="translate(322.31,437.90) scale(1.344,1)"><text x="0.000" y="0" font-family="Liberation Sans" font-size="14.5" font-weight="normal" fill="#222" stroke="#222" stroke-width="0.3">2</text><text x="8.062" y="0" font-family="Liberation Sans" font-size="14.5" font-weight="normal" fill="#222" stroke="#222" stroke-width="0.3">5</text></g>
<g transform="translate(372.01,437.90) scale(1.344,1)"><text x="0.000" y="0" font-family="Liberation Sans" font-size="14.5" font-weight="normal" fill="#222" stroke="#222" stroke-width="0.3">3</text><text x="8.062" y="0" font-family="Liberation Sans" font-size="14.5" font-weight="normal" fill="#222" stroke="#222" stroke-width="0.3">0</text></g>
<g transform="translate(422.11,437.90) scale(1.344,1)"><text x="0.000" y="0" font-family="Liberation Sans" font-size="14.5" font-weight="normal" fill="#222" stroke="#222" stroke-width="0.3">3</text><text x="8.062" y="0" font-family="Liberation Sans" font-size="14.5" font-weight="normal" fill="#222" stroke="#222" stroke-width="0.3">5</text></g>
<g transform="translate(472.31,437.90) scale(1.344,1)"><text x="0.000" y="0" font-family="Liberation Sans" font-size="14.5" font-weight="normal" fill="#222" stroke="#222" stroke-width="0.3">4</text><text x="8.062" y="0" font-family="Liberation Sans" font-size="14.5" font-weight="normal" fill="#222" stroke="#222" stroke-width="0.3">0</text></g>
<g transform="translate(571.16,437.90) scale(1.344,1)"><text x="0.000" y="0" font-family="Liberation Sans" font-size="14.5" font-weight="normal" fill="#222" stroke="#222" stroke-width="0.3">5</text><text x="8.062" y="0" font-family="Liberation Sans" font-size="14.5" font-weight="normal" fill="#222" stroke="#222" stroke-width="0.3">0</text></g>
<g transform="translate(520.61,437.90) scale(1.3,1)"><path transform="translate(0.000,0) scale(14.6)" d="M0.3936,0 L0.2563,0 L0.2563,-0.517 Q0.181,-0.4468 0.0791,-0.413 L0.0791,-0.5376 Q0.1328,-0.555 0.1958,-0.604 Q0.2588,-0.6533 0.2822,-0.7188 L0.3936,-0.7188 Z" fill="#111" stroke="#111" stroke-width="0.0068"/><text x="8.118" y="0" font-family="Liberation Sans" font-size="14.6" font-weight="bold" fill="#111" stroke="#111" stroke-width="0.1">/</text><text x="12.176" y="0" font-family="Liberation Sans" font-size="14.6" font-weight="bold" fill="#111" stroke="#111" stroke-width="0.1">s</text></g>
<g transform="translate(596.60,11.30) scale(1.344,1)"><path transform="translate(0.000,0) scale(14.5)" d="M0.3726,0 L0.2847,0 L0.2847,-0.560 Q0.253,-0.530 0.2014,-0.4995 Q0.150,-0.469 0.1089,-0.454 L0.1089,-0.539 Q0.1826,-0.5737 0.2378,-0.623 Q0.293,-0.672 0.316,-0.7188 L0.3726,-0.7188 Z" fill="#222" stroke="#222" stroke-width="0.0207"/><text x="8.062" y="0" font-family="Liberation Sans" font-size="14.5" font-weight="normal" fill="#222" stroke="#222" stroke-width="0.3">0</text></g>
<g transform="translate(596.10,214.50) scale(1.344,1)"><path transform="translate(0.000,0) scale(14.5)" d="M0.3726,0 L0.2847,0 L0.2847,-0.560 Q0.253,-0.530 0.2014,-0.4995 Q0.150,-0.469 0.1089,-0.454 L0.1089,-0.539 Q0.1826,-0.5737 0.2378,-0.623 Q0.293,-0.672 0.316,-0.7188 L0.3726,-0.7188 Z" fill="#222" stroke="#222" stroke-width="0.0207"/></g>
<g transform="translate(597.40,416.20) scale(1.344,1)"><text x="0.000" y="0" font-family="Liberation Sans" font-size="14.5" font-weight="normal" fill="#222" stroke="#222" stroke-width="0.3">0</text><text x="8.062" y="0" font-family="Liberation Sans" font-size="14.5" font-weight="normal" fill="#222" stroke="#222" stroke-width="0.3">.</text><path transform="translate(12.093,0) scale(14.5)" d="M0.3726,0 L0.2847,0 L0.2847,-0.560 Q0.253,-0.530 0.2014,-0.4995 Q0.150,-0.469 0.1089,-0.454 L0.1089,-0.539 Q0.1826,-0.5737 0.2378,-0.623 Q0.293,-0.672 0.316,-0.7188 L0.3726,-0.7188 Z" fill="#222" stroke="#222" stroke-width="0.0207"/></g>
<text x="597" y="112.4" font-family="Liberation Sans" font-size="14.8" font-weight="bold" text-anchor="start" fill="#111" textLength="41" lengthAdjust="spacingAndGlyphs" stroke="#111" stroke-width="0.12">Pa·s</text>
<text x="311.2" y="49.5" font-family="Liberation Serif" font-size="21.5" font-weight="normal" text-anchor="start" fill="#222" textLength="89.7" lengthAdjust="spacingAndGlyphs" stroke="#222" stroke-width="0.35">Sample-4</text>
<text x="233.6" y="355.9" font-family="Liberation Sans" font-size="14.8" font-weight="normal" text-anchor="start" fill="#2e2e2e" textLength="99.3" lengthAdjust="spacingAndGlyphs" stroke="#2e2e2e" stroke-width="0.12">Shear Stress</text>
<text x="233.6" y="385.9" font-family="Liberation Sans" font-size="14.6" font-weight="normal" text-anchor="start" fill="#2e2e2e" textLength="69" lengthAdjust="spacingAndGlyphs" stroke="#2e2e2e" stroke-width="0.12">Viscosity</text>
<text x="198.1" y="357.0" font-family="Liberation Serif" font-size="15.5" font-weight="normal" text-anchor="start" fill="#333" textLength="8.6" lengthAdjust="spacingAndGlyphs" stroke="#333" stroke-width="0.1">τ</text>
<text x="198.0" y="386.7" font-family="Liberation Serif" font-size="15" font-weight="normal" text-anchor="start" fill="#333" textLength="11.3" lengthAdjust="spacingAndGlyphs" stroke="#333" stroke-width="0.1">η</text>
<text x="206" y="472" font-family="Liberation Sans" font-size="15.3" font-weight="bold" text-anchor="start" fill="#111" textLength="104.8" lengthAdjust="spacingAndGlyphs" stroke="#111" stroke-width="0.15">Shear Rate</text>
<text x="316.6" y="473.0" font-family="Liberation Serif" font-size="15.5" font-weight="normal" text-anchor="start" fill="#111" textLength="9.6" lengthAdjust="spacingAndGlyphs" font-style="italic" stroke="#111" stroke-width="0.42">γ</text>
<rect x="320.1" y="456.9" width="2.1" height="2.0" fill="#111"/>
<text x="16.7" y="220.9" font-family="Liberation Serif" font-size="16.2" font-weight="bold" text-anchor="start" fill="#111" textLength="8.8" lengthAdjust="spacingAndGlyphs" stroke="#111" stroke-width="0.05">τ</text>
<text x="658.2" y="220.2" font-family="Liberation Serif" font-size="15.0" font-weight="bold" text-anchor="start" fill="#151515" textLength="12.6" lengthAdjust="spacingAndGlyphs">η</text>
</svg>
</body></html>
